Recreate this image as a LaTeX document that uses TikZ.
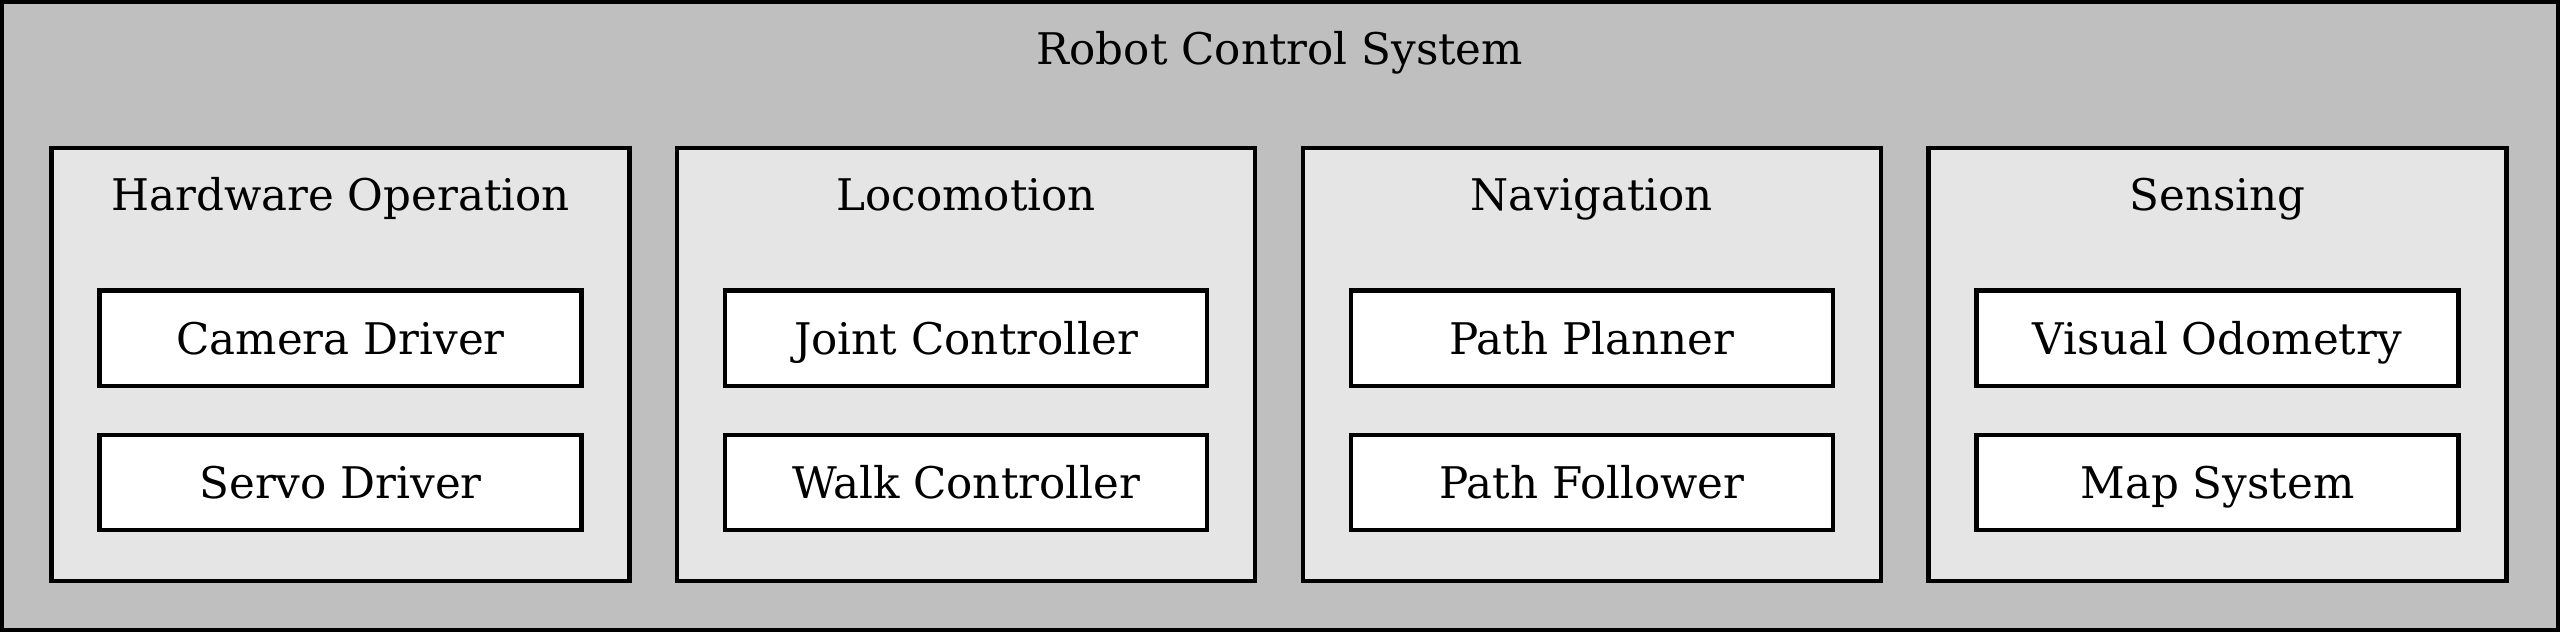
\documentclass[tikz,border=0pt]{standalone}
\usepackage{fontspec}
\setmainfont{DejaVu Serif}
\usetikzlibrary{positioning}
\definecolor{sysgray}{gray}{0.75}
\definecolor{groupgray}{gray}{0.9}
\begin{document}
\begin{tikzpicture}[every node/.style={font=\fontsize{10.9}{13}\selectfont},
  sysbox/.style={draw, line width=1.1pt, fill=sysgray},
  groupbox/.style={draw, line width=1.1pt, fill=groupgray, minimum width=144.5pt, minimum height=108.25pt, inner sep=0pt, anchor=north west},
  unitbox/.style={draw, line width=1.1pt, fill=white, minimum width=120.5pt, minimum height=23.8pt, inner sep=0pt, text height=8pt, text depth=0pt},
  grouptitle/.style={inner sep=0pt, anchor=base}]
\useasboundingbox (0,0) rectangle (640pt,-158pt);
%outer system
\draw[sysbox] (0.55pt,-0.55pt) rectangle (639.45pt,-157.45pt);
\node[grouptitle] (sys) at (320pt,-16.25pt) {Robot Control System};

%groups
\node[groupbox] (hw) at (12.35pt,-36.5pt) {};
\node[groupbox] (loco) at (168.75pt,-36.5pt) {};
\node[groupbox] (nav) at (325.15pt,-36.5pt) {};
\node[groupbox] (sens) at (481.55pt,-36.5pt) {};

\node[grouptitle] (hwtitle) at ([yshift=-16pt]hw.north) {Hardware Operation};
\node[grouptitle] (locotitle) at ([yshift=-16pt]loco.north) {Locomotion};
\node[grouptitle] (navtitle) at ([yshift=-16pt]nav.north) {Navigation};
\node[grouptitle] (senstitle) at ([yshift=-16pt]sens.north) {Sensing};

%units
\node[unitbox, anchor=north] (camera) at ([yshift=-35.6pt]hw.north) {Camera Driver};
\node[unitbox, below=11.2pt of camera] (servo) {Servo Driver};
\node[unitbox, anchor=north] (joint) at ([yshift=-35.6pt]loco.north) {Joint Controller};
\node[unitbox, below=11.2pt of joint] (walk) {Walk Controller};
\node[unitbox, anchor=north] (planner) at ([yshift=-35.6pt]nav.north) {Path Planner};
\node[unitbox, below=11.2pt of planner] (follower) {Path Follower};
\node[unitbox, anchor=north] (vo) at ([yshift=-35.6pt]sens.north) {Visual Odometry};
\node[unitbox, below=11.2pt of vo] (map) {Map System};
\end{tikzpicture}
\end{document}
